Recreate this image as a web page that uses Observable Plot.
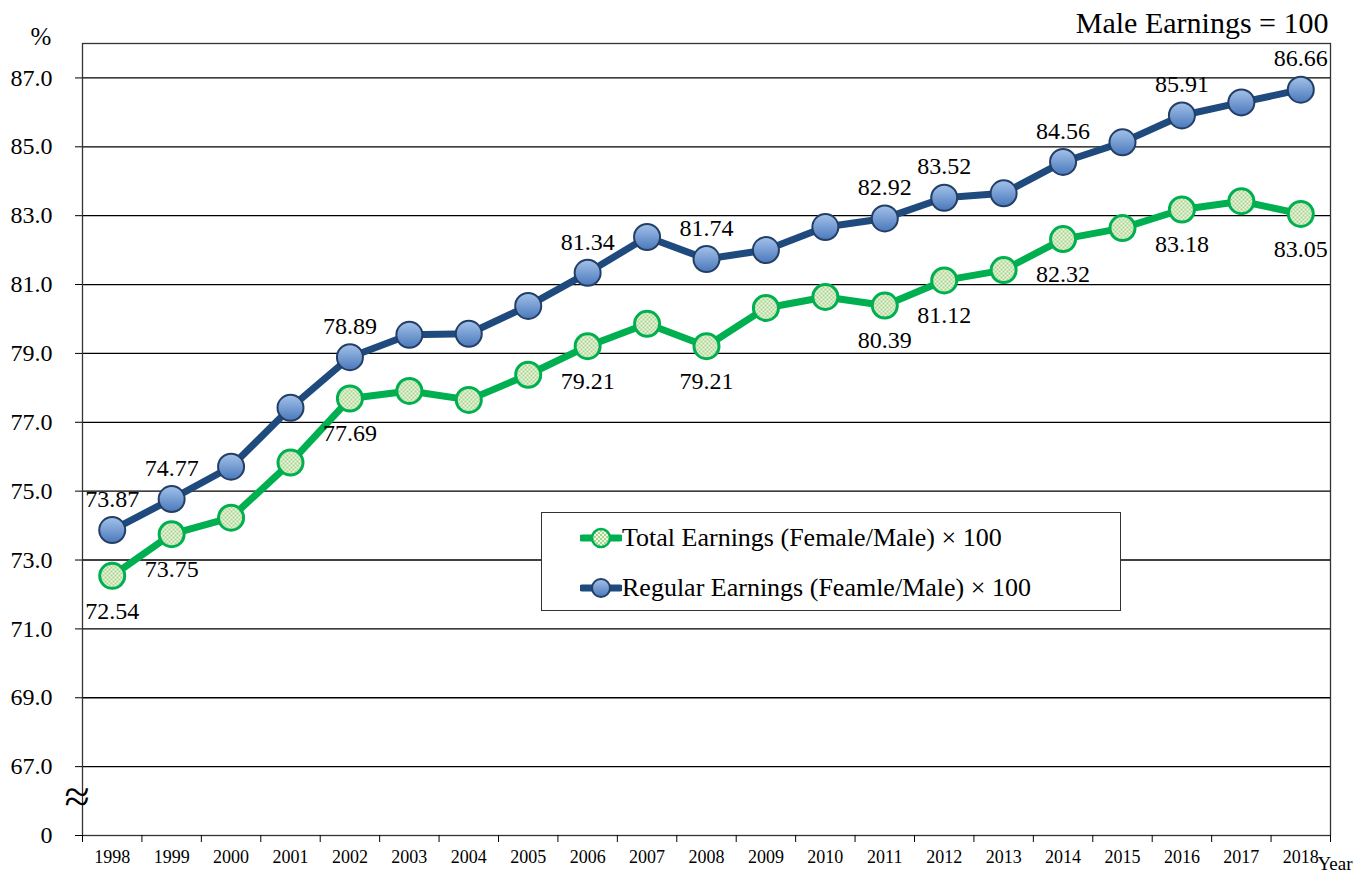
<!DOCTYPE html>
<html>
<head>
<meta charset="utf-8">
<script src="https://cdn.jsdelivr.net/npm/d3@7"></script>
<script src="https://cdn.jsdelivr.net/npm/@observablehq/plot@0.6"></script>
<style>
  html, body { margin: 0; padding: 0; background: #fff; }
  #wrap { position: relative; width: 1363px; height: 877px; }
  #wrap svg text { font-family: "Liberation Serif", "Times New Roman", serif; }
  #legend {
    position: absolute; left: 541px; top: 512px; width: 580px; height: 99px;
    border: 1.3px solid #333; background: #fff; box-sizing: border-box;
    font-family: "Liberation Serif", "Times New Roman", serif; font-size: 26px; color: #000;
  }
  .row { position: absolute; left: 38px; display: flex; align-items: center; height: 40px; }
  .row svg { margin-right: 0px; }
</style>
</head>
<body>
<div id="wrap"></div>
<script>
// ---- data ----
const years = [1998,1999,2000,2001,2002,2003,2004,2005,2006,2007,2008,2009,2010,2011,2012,2013,2014,2015,2016,2017,2018];
const totalEarnings   = [72.54,73.75,74.23,75.83,77.69,77.91,77.65,78.38,79.21,79.86,79.21,80.32,80.64,80.39,81.12,81.42,82.32,82.64,83.18,83.42,83.05];
const regularEarnings = [73.87,74.77,75.71,77.42,78.89,79.54,79.57,80.38,81.34,82.38,81.74,82.00,82.67,82.92,83.52,83.65,84.56,85.13,85.91,86.29,86.66];
const labeledYears = [1998,1999,2002,2006,2008,2011,2012,2014,2016,2018];
const yTicks = [65,67,69,71,73,75,77,79,81,83,85,87];
const yTickLabels = ["0","67.0","69.0","71.0","73.0","75.0","77.0","79.0","81.0","83.0","85.0","87.0"];
const seriesNames = ["Total Earnings (Female/Male) \u00d7 100", "Regular Earnings (Feamle/Male) \u00d7 100"];

const total = years.map((y, i) => ({year: y, value: totalEarnings[i]}));
const regular = years.map((y, i) => ({year: y, value: regularEarnings[i]}));
const totalLab = total.filter(d => labeledYears.includes(d.year));
const regularLab = regular.filter(d => labeledYears.includes(d.year));
const boundaries = [...years.map(y => y - 0.5), years[years.length - 1] + 0.5];
const tickLabelMap = new Map(yTicks.map((t, i) => [t, yTickLabels[i]]));

const BLUE_LINE = "#1f4a7e";
const GREEN_LINE = "#00b050";
const BLUE_FILL = "#6f97d2";
const GREEN_FILL = "#e3f1d6";
const FONT = '"Liberation Serif", "Times New Roman", serif';

const svg = Plot.plot({
  width: 1363,
  height: 877,
  marginTop: 43,
  marginBottom: 42,
  marginLeft: 82,
  marginRight: 33,
  style: {fontFamily: FONT, fontSize: "24px", color: "#000", background: "#fff"},
  x: {type: "linear", domain: [boundaries[0], boundaries[boundaries.length - 1]]},
  y: {domain: [65, 88]},
  marks: [
    Plot.ruleY(yTicks.slice(1), {stroke: "#000", strokeWidth: 1.3}),
    Plot.frame({stroke: "#333", strokeWidth: 1.3}),
    Plot.axisY(yTicks, {tickSize: 7, tickPadding: 23, tickFormat: d => tickLabelMap.get(d), fontSize: 24, stroke: "#000", label: null}),
    Plot.axisX(boundaries, {tickSize: 7, tickFormat: () => "", stroke: "#000", label: null}),
    Plot.axisX(years, {tickSize: 0, tickPadding: 15, tickFormat: d => String(d), fontSize: 18, label: null}),
    Plot.text(["%"], {frameAnchor: "top-left", dx: -52, dy: -16, textAnchor: "start", fontSize: 25}),
    Plot.text(["Male Earnings = 100"], {frameAnchor: "top-right", dx: -2, dy: -32, textAnchor: "end", fontSize: 30}),
    Plot.text(["Year"], {frameAnchor: "bottom-right", dx: 22, dy: 34, textAnchor: "end", fontSize: 19}),
    Plot.text(["\u2248"], {frameAnchor: "bottom-left", dx: -18, dy: -24, fontSize: 46}),
    Plot.line(total, {x: "year", y: "value", stroke: GREEN_LINE, strokeWidth: 7}),
    Plot.line(regular, {x: "year", y: "value", stroke: BLUE_LINE, strokeWidth: 7}),
    Plot.dot(total, {x: "year", y: "value", r: 12.5, fill: GREEN_FILL, stroke: GREEN_LINE, strokeWidth: 3}),
    Plot.dot(regular, {x: "year", y: "value", r: 13, fill: BLUE_FILL, stroke: "#233f66", strokeWidth: 2}),
    Plot.text(regularLab, {x: "year", y: "value", text: d => d.value.toFixed(2), dy: -31, fontSize: 24}),
    Plot.text(totalLab, {x: "year", y: "value", text: d => d.value.toFixed(2), dy: 35, fontSize: 24})
  ]
});

// gradients / patterns for marker fills
const defs = d3.select(svg).insert("defs", ":first-child");
const bg = defs.append("linearGradient").attr("id", "blueGrad").attr("x1", 0).attr("y1", 0).attr("x2", 0).attr("y2", 1);
bg.append("stop").attr("offset", "0%").attr("stop-color", "#a3c2ea");
bg.append("stop").attr("offset", "100%").attr("stop-color", "#4a78bb");
const gp = defs.append("pattern").attr("id", "greenPat").attr("width", 4).attr("height", 4).attr("patternUnits", "userSpaceOnUse");
gp.append("rect").attr("width", 4).attr("height", 4).attr("fill", "#eef7e6");
gp.append("rect").attr("width", 2).attr("height", 2).attr("fill", "#a9d48e");
gp.append("rect").attr("x", 2).attr("y", 2).attr("width", 2).attr("height", 2).attr("fill", "#a9d48e");
d3.select(svg).selectAll(`[fill="${BLUE_FILL}"]`).attr("fill", "url(#blueGrad)");
d3.select(svg).selectAll(`[fill="${GREEN_FILL}"]`).attr("fill", "url(#greenPat)");

const wrap = document.getElementById("wrap");
wrap.appendChild(svg);

// legend
function sample(lineColor, fill, stroke, sw) {
  return `<svg width="42" height="24"><line x1="2" y1="12" x2="40" y2="12" stroke="${lineColor}" stroke-width="7" stroke-linecap="round"/><circle cx="21" cy="12" r="9" fill="${fill}" stroke="${stroke}" stroke-width="${sw}"/></svg>`;
}
const legend = document.createElement("div");
legend.id = "legend";
legend.innerHTML =
  `<div class="row" style="top:5px">${sample(GREEN_LINE, "url(#greenPat)", GREEN_LINE, 2.5)}<span>${seriesNames[0]}</span></div>` +
  `<div class="row" style="top:55px">${sample(BLUE_LINE, "url(#blueGrad)", "#233f66", 2)}<span>${seriesNames[1]}</span></div>`;
wrap.appendChild(legend);
</script>
</body>
</html>
